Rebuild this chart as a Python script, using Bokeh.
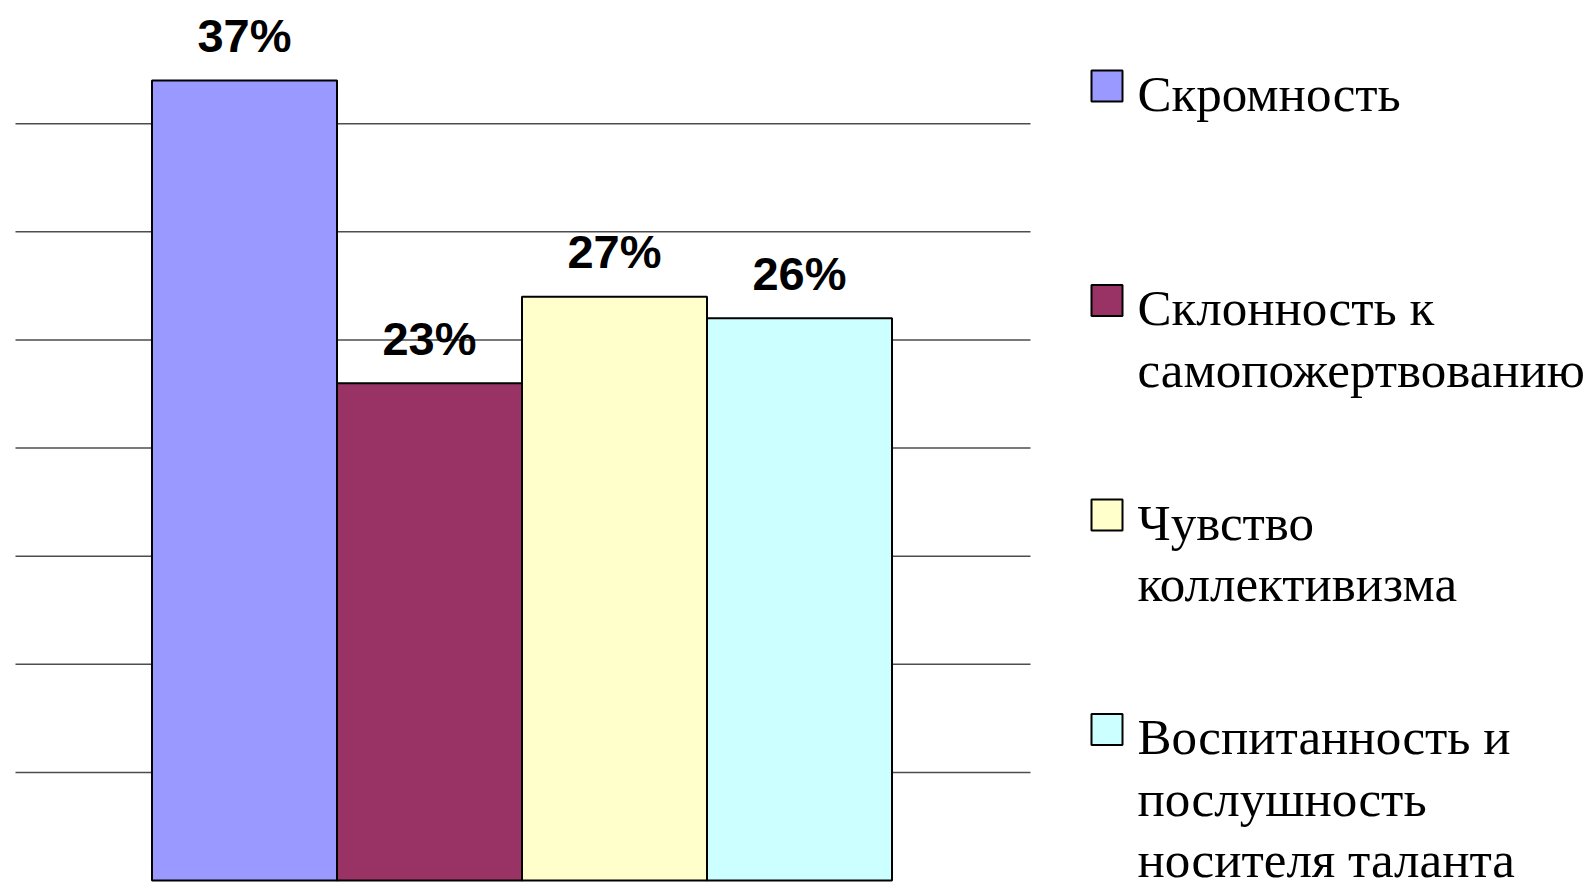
from bokeh.plotting import figure
from bokeh.models import Range1d, ColumnDataSource
from bokeh.core.properties import value
from bokeh.embed import file_html
from bokeh.resources import INLINE

# ---- data ----
categories = ["Скромность", "Склонность к\nсамопожертвованию", "Чувство\nколлективизма",
              "Воспитанность и\nпослушность\nносителя таланта"]
values = [37, 23, 27, 26]
labels = ["37%", "23%", "27%", "26%"]
colors = ["#9999FF", "#993366", "#FFFFCC", "#CCFFFF"]
grid_values = [5, 10, 15, 20, 25, 30, 35]

# ---- layout (pixels in page coordinates) ----
W, H = 1594, 882
ORG = 0
PX_PER_X = 185.0
X0 = -(244 - ORG) / PX_PER_X
X1 = X0 + W / PX_PER_X
S = 800 / 37.0            # px per percent
Y1 = (880 - ORG) / S
Y0 = Y1 - H / S

def dx(px):
    return X0 + (px - ORG) / PX_PER_X

def dy(py):
    return Y1 - (py - ORG) / S

p = figure(width=W, height=H, output_backend="svg", toolbar_location=None,
           x_range=Range1d(X0, X1), y_range=Range1d(Y0, Y1),
           min_border=0, min_border_left=0, min_border_right=0,
           min_border_top=0, min_border_bottom=0)
p.axis.visible = False
p.grid.visible = False
p.outline_line_color = None
p.background_fill_color = "white"
p.border_fill_color = "white"

# gridlines
n = len(grid_values)
p.segment(x0=[dx(15)] * n, x1=[dx(1030)] * n, y0=grid_values, y1=grid_values,
          line_color="#4d4d4d", line_width=1.5)

# bars
xs = list(range(len(values)))
src = ColumnDataSource(dict(x=xs, top=values, color=colors, label=labels))
p.vbar(x="x", top="top", bottom=0, width=1.0, fill_color="color",
       line_color="black", line_width=2, source=src)

p.text(x="x", y="top", text="label", source=src, y_offset=-27 - 18,
       text_align="center", text_baseline="alphabetic",
       text_font=value("Liberation Sans"), text_font_style="bold",
       text_font_size="47px", text_color="black")

# legend
sq_x, sq_size = 1106.5, 31
first_top, step = 70, 214.5
base_off, line_step, fix = 42, 61.5, 19
lx, ly, ltxt = [], [], []
sq_xs, sq_ys = [], []
for i, cat in enumerate(categories):
    top = first_top + i * step
    sq_xs.append(dx(sq_x))
    sq_ys.append(dy(top + sq_size / 2))
    for j, line in enumerate(cat.split("\n")):
        lx.append(dx(1137))
        ly.append(dy(top + base_off + j * line_step - fix))
        ltxt.append(line)

p.rect(x=sq_xs, y=sq_ys, width=sq_size, height=sq_size,
       width_units="screen", height_units="screen",
       fill_color=colors, line_color="black", line_width=2)
p.text(x=lx, y=ly, text=ltxt, text_align="left", text_baseline="alphabetic",
       text_font=value("Liberation Serif"), text_font_size="51px", text_color="black")

open("out.html", "w").write(file_html(p, INLINE))
